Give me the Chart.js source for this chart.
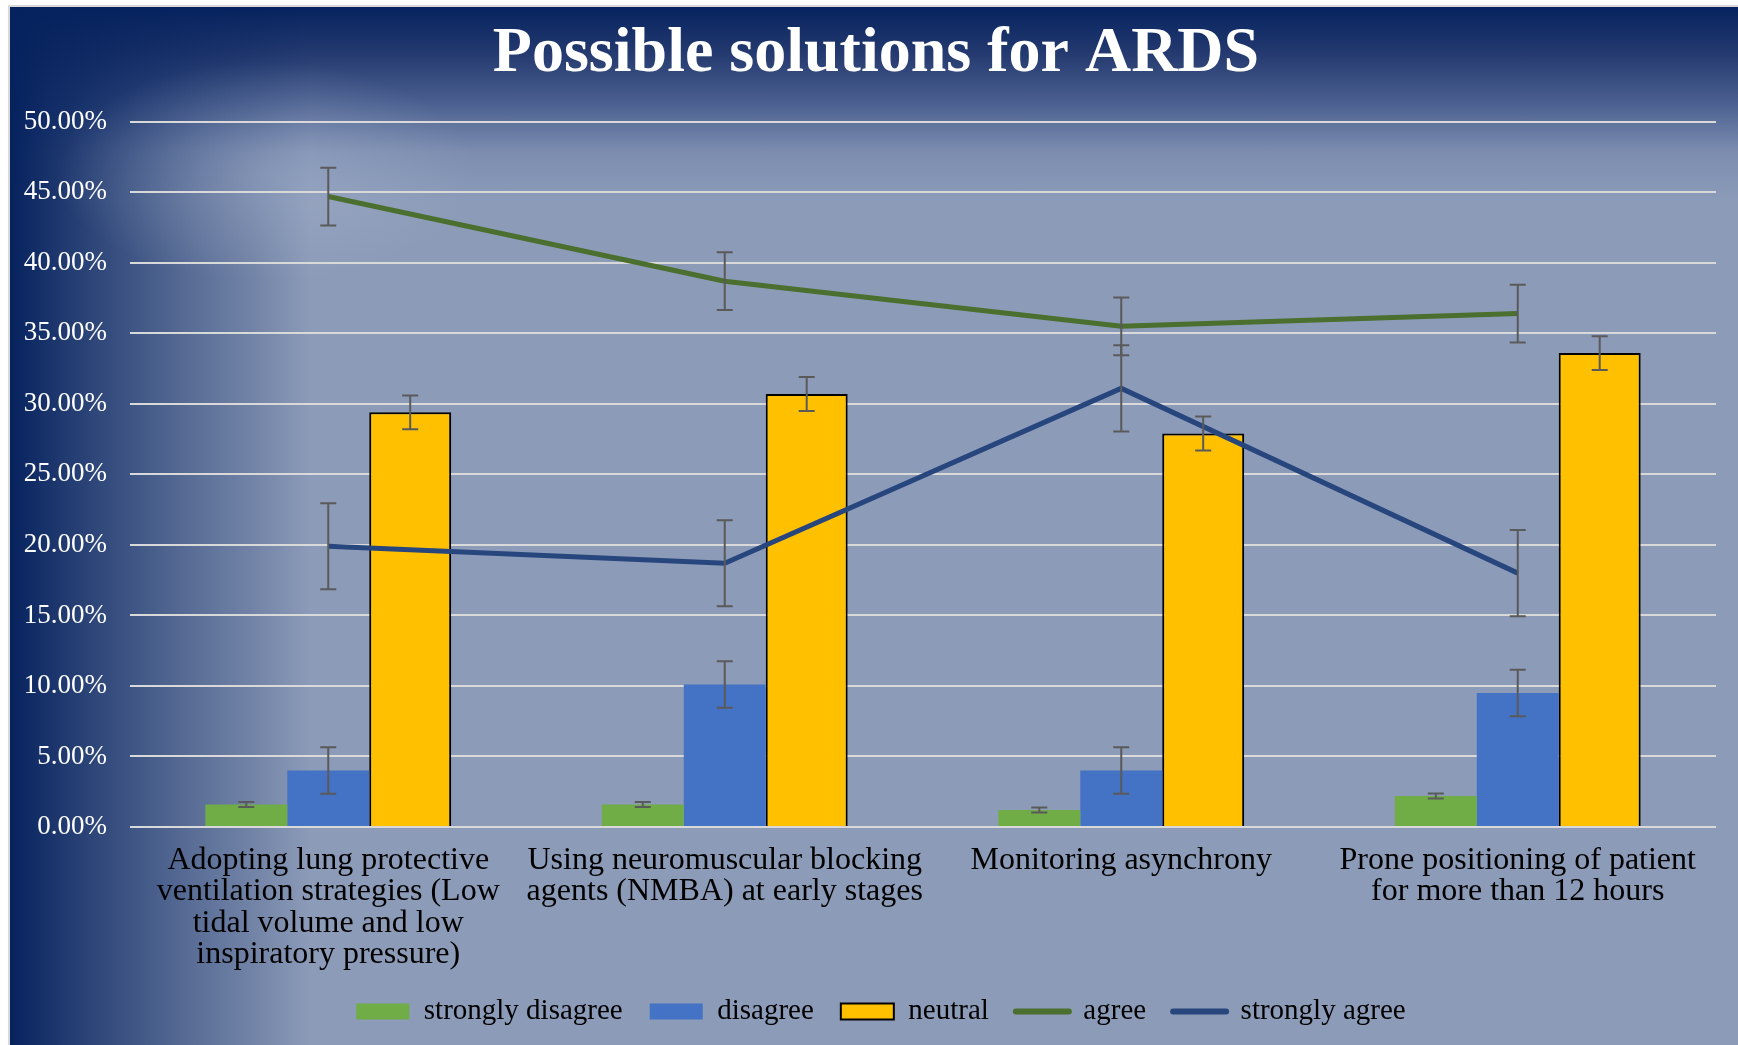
<!DOCTYPE html>
<html>
<head>
<meta charset="utf-8">
<script src="https://cdn.jsdelivr.net/npm/chart.js@4.4.1/dist/chart.umd.min.js"></script>
<style>
  html, body { margin: 0; padding: 0; background: #ffffff; }
  #wrap { position: absolute; left: 0; top: 0; width: 1738px; height: 1045px; overflow: hidden; }
  #bg {
    position: absolute; left: 8px; top: 5px; right: 0; bottom: 0;
    border-top: 2px solid #d9d9d9; border-left: 2px solid #d9d9d9;
    background:
      radial-gradient(ellipse 210px 110px at 255px 165px, rgba(175,188,212,0.35) 0%, rgba(175,188,212,0) 100%),
      linear-gradient(to right, rgba(6,34,94,1) 0px, rgba(6,34,94,0.85) 40px, rgba(6,34,94,0.575) 122px, rgba(6,34,94,0.35) 192px, rgba(6,34,94,0.2) 242px, rgba(6,34,94,0) 300px),
      linear-gradient(to bottom, #06235f 0px, #23396f 45px, #4a5f8f 95px, #7c8db0 145px, #8c9bb8 195px, #8c9bb8 100%);
  }
  canvas { position: absolute; left: 0; top: 0; }
</style>
</head>
<body>
<div id="wrap">
  <div id="bg"></div>
  <canvas id="c" width="1738" height="1045"></canvas>
</div>
<script>
const categories = [
  ["Adopting lung protective", "ventilation strategies (Low", "tidal volume and low", "inspiratory pressure)"],
  ["Using neuromuscular blocking", "agents (NMBA) at early stages"],
  ["Monitoring asynchrony"],
  ["Prone positioning of patient", "for more than 12 hours"]
];
const stronglyDisagree = [1.6, 1.6, 1.2, 2.2];
const disagree = [4.0, 10.1, 4.0, 9.5];
const neutral = [29.4, 30.7, 27.9, 33.6];
const agree = [44.7, 38.7, 35.5, 36.4];
const stronglyAgree = [19.9, 18.7, 31.1, 18.0];

const errStronglyDisagree = [0.18, 0.18, 0.18, 0.18];
const errDisagree = [1.65, 1.65, 1.65, 1.65];
const errNeutral = [1.2, 1.2, 1.2, 1.2];
const errAgree = [2.05, 2.05, 2.05, 2.05];
const errStronglyAgree = [3.05, 3.05, 3.05, 3.05];

const yTicks = [0, 5, 10, 15, 20, 25, 30, 35, 40, 45, 50];

const SERIF = "'Liberation Serif', 'Times New Roman', serif";
const LEGEND_H = 68;

const errorBarPlugin = {
  id: 'errorBars',
  afterDatasetsDraw(chart) {
    const ctx = chart.ctx;
    const y = chart.scales.y;
    ctx.save();
    ctx.strokeStyle = '#5a5a5a';
    ctx.lineWidth = 2;
    chart.data.datasets.forEach((ds, di) => {
      const meta = chart.getDatasetMeta(di);
      if (!ds.errors || meta.hidden) return;
      meta.data.forEach((el, i) => {
        const v = ds.data[i], e = ds.errors[i];
        const yTop = y.getPixelForValue(v + e);
        const yBot = y.getPixelForValue(v - e);
        const x = el.x;
        const cap = 8;
        ctx.beginPath();
        ctx.moveTo(x, yTop); ctx.lineTo(x, yBot);
        ctx.moveTo(x - cap, yTop); ctx.lineTo(x + cap, yTop);
        ctx.moveTo(x - cap, yBot); ctx.lineTo(x + cap, yBot);
        ctx.stroke();
      });
    });
    ctx.restore();
  }
};

const placementPlugin = {
  id: 'placement',
  afterInit(chart) {
    const lg = chart.legend;
    if (lg) {
      const origFit = lg.fit;
      lg.fit = function () { origFit.call(this); this.height = LEGEND_H; };
    }
  },
  afterLayout(chart) {
    const lg = chart.legend;
    if (lg) { lg.left += 23; lg.right += 23; lg.top -= 7; lg.bottom -= 7; }
    const tb = chart.titleBlock;
    if (tb) { tb.left += 18; tb.right += 18; }
  }
};

new Chart(document.getElementById('c'), {
  type: 'bar',
  data: {
    labels: categories,
    datasets: [
      { type: 'bar', label: 'strongly disagree', data: stronglyDisagree, errors: errStronglyDisagree,
        backgroundColor: '#70ad47', borderWidth: 0, order: 1 },
      { type: 'bar', label: 'disagree', data: disagree, errors: errDisagree,
        backgroundColor: '#4472c4', borderWidth: 0, order: 1 },
      { type: 'bar', label: 'neutral', data: neutral, errors: errNeutral,
        backgroundColor: '#ffc000', borderColor: '#000000', borderWidth: 2, order: 1 },
      { type: 'line', label: 'agree', data: agree, errors: errAgree,
        borderColor: '#4a6f2e', backgroundColor: '#4a6f2e', borderWidth: 5, pointRadius: 0, tension: 0, order: 0 },
      { type: 'line', label: 'strongly agree', data: stronglyAgree, errors: errStronglyAgree,
        borderColor: '#28467e', backgroundColor: '#28467e', borderWidth: 5, pointRadius: 0, tension: 0, order: 0 }
    ]
  },
  options: {
    responsive: false,
    animation: false,
    devicePixelRatio: 1,
    layout: { padding: { left: 0, right: 22, top: 0, bottom: 0 } },
    datasets: { bar: { categoryPercentage: 0.62, barPercentage: 1.0 } },
    plugins: {
      title: {
        display: true,
        text: 'Possible solutions for ARDS',
        color: '#ffffff',
        font: { family: SERIF, size: 64, weight: 'bold' },
        padding: { top: 16, bottom: 29 }
      },
      legend: {
        position: 'bottom',
        labels: {
          color: '#000000',
          font: { family: SERIF, size: 29 },
          usePointStyle: true,
          pointStyleWidth: 53,
          boxHeight: 16,
          padding: 27,
          sort: (a, b) => a.datasetIndex - b.datasetIndex,
          generateLabels(chart) {
            const items = Chart.defaults.plugins.legend.labels.generateLabels(chart);
            items.forEach(it => {
              const ds = chart.data.datasets[it.datasetIndex];
              if (ds.type === 'line') {
                it.pointStyle = 'line';
                it.lineWidth = 6;
                it.lineCap = 'round';
                it.strokeStyle = ds.borderColor;
                it.fillStyle = ds.borderColor;
              } else {
                it.pointStyle = 'rect';
                it.fillStyle = ds.backgroundColor;
                it.strokeStyle = ds.borderWidth ? '#000000' : ds.backgroundColor;
                it.lineWidth = ds.borderWidth ? 2 : 0;
              }
            });
            return items;
          }
        }
      },
      tooltip: { enabled: false }
    },
    scales: {
      x: {
        grid: { display: false },
        border: { display: false },
        afterFit(scale) { scale.height = 1045 - LEGEND_H - 827; },
        ticks: {
          color: '#000000',
          font: { family: SERIF, size: 32, lineHeight: 0.98 },
          autoSkip: false,
          maxRotation: 0,
          minRotation: 0,
          padding: 10
        }
      },
      y: {
        min: 0,
        max: 50,
        afterFit(scale) { scale.width = 130; },
        afterBuildTicks(scale) { scale.ticks = yTicks.map(v => ({ value: v })); },
        grid: { color: '#d9d9d9', lineWidth: 2, drawTicks: false },
        border: { display: false },
        ticks: {
          color: '#ffffff',
          font: { family: SERIF, size: 27 },
          padding: 23,
          callback: v => v.toFixed(2) + '%'
        }
      }
    }
  },
  plugins: [errorBarPlugin, placementPlugin]
});
</script>
</body>
</html>
